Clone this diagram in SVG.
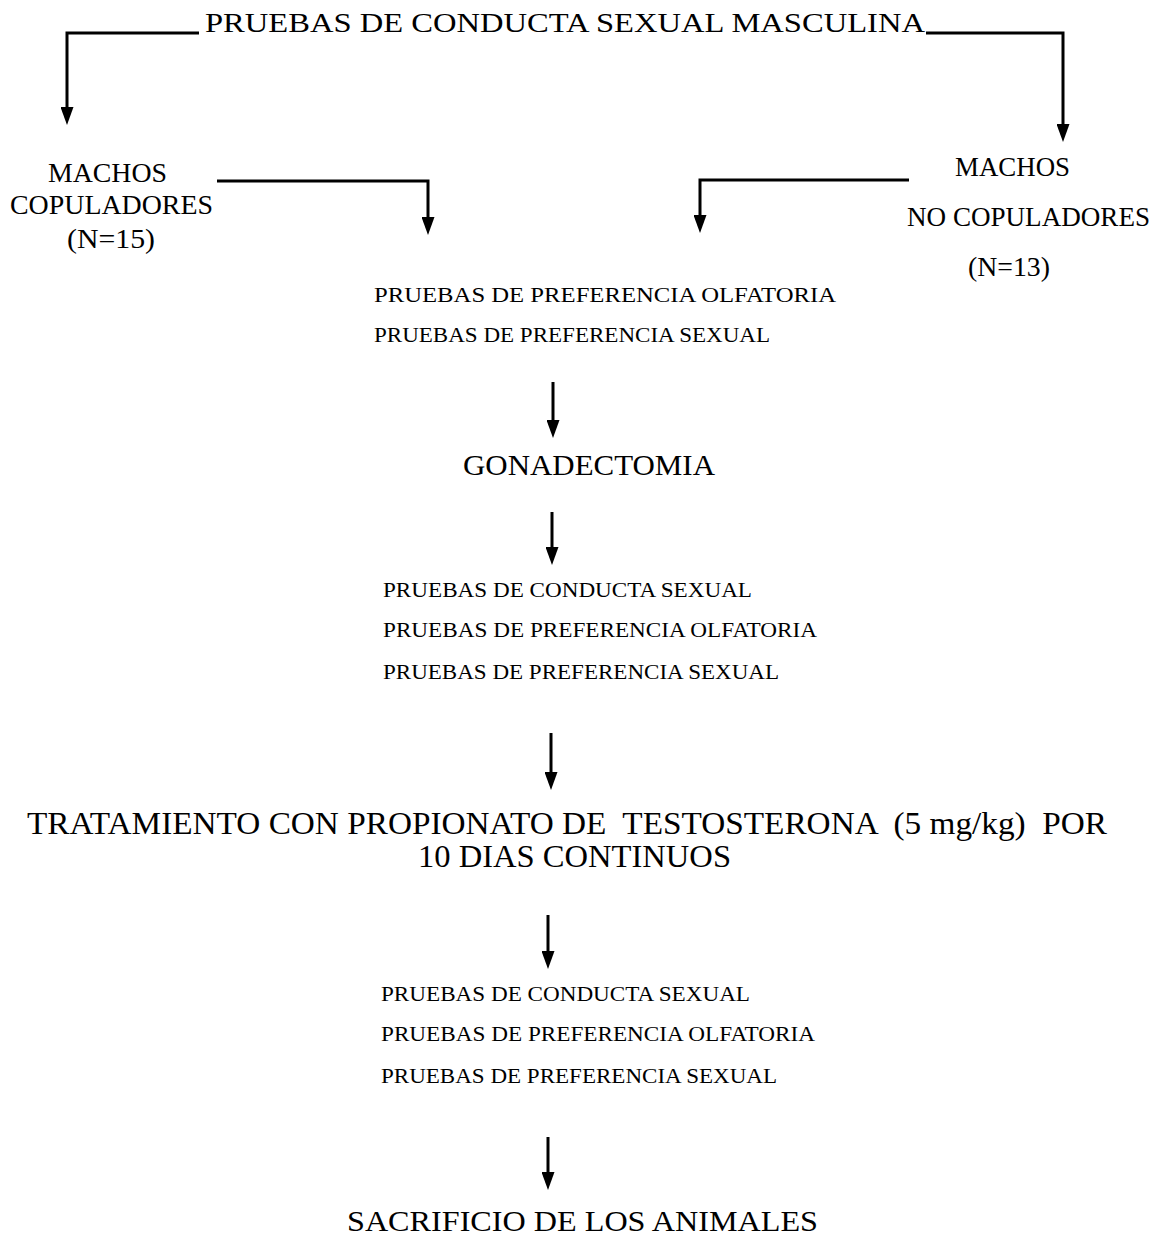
<svg xmlns="http://www.w3.org/2000/svg" width="1167" height="1237" viewBox="0 0 1167 1237">
<style>
text { font-family: "Liberation Serif", "Times New Roman", serif; fill: #000; }
.big { font-size: 27px; }
.mid { font-size: 29px; }
.tall { font-size: 32px; }
.small { font-size: 22px; }
.conn { fill: none; stroke: #000; stroke-width: 3; }
</style>
<defs>
<marker id="ah" viewBox="0 0 18 13" refX="12" refY="6.5" markerWidth="18" markerHeight="13" markerUnits="userSpaceOnUse" orient="auto">
<path d="M0,0 L18,6.5 L0,13 z" fill="#000"/>
</marker>
</defs>
<rect width="1167" height="1237" fill="#fff"/>
<g id="connectors">
<path class="conn" d="M199,33 H67 V119" marker-end="url(#ah)"/>
<path class="conn" d="M926,33 H1063 V136" marker-end="url(#ah)"/>
<path class="conn" d="M217,181 H428 V229" marker-end="url(#ah)"/>
<path class="conn" d="M909,180 H700 V227" marker-end="url(#ah)"/>
<path class="conn" d="M553,382 V432" marker-end="url(#ah)"/>
<path class="conn" d="M552,512 V559" marker-end="url(#ah)"/>
<path class="conn" d="M551,733 V784" marker-end="url(#ah)"/>
<path class="conn" d="M548,915 V963" marker-end="url(#ah)"/>
<path class="conn" d="M548,1137 V1184" marker-end="url(#ah)"/>
</g>
<g id="title">
<text class="big" x="205" y="32" textLength="720" lengthAdjust="spacingAndGlyphs">PRUEBAS DE CONDUCTA SEXUAL MASCULINA</text>
</g>
<g id="copuladores">
<text class="big" x="48" y="182" textLength="119" lengthAdjust="spacingAndGlyphs">MACHOS</text>
<text class="big" x="10" y="214" textLength="203" lengthAdjust="spacingAndGlyphs">COPULADORES</text>
<text class="big" x="67" y="248" textLength="88" lengthAdjust="spacingAndGlyphs">(N=15)</text>
</g>
<g id="no-copuladores">
<text class="big" x="955" y="176" textLength="115" lengthAdjust="spacingAndGlyphs">MACHOS</text>
<text class="big" x="907" y="226" textLength="243" lengthAdjust="spacingAndGlyphs">NO COPULADORES</text>
<text class="big" x="968" y="276" textLength="82" lengthAdjust="spacingAndGlyphs">(N=13)</text>
</g>
<g id="pruebas-1">
<text class="small" x="374" y="302" textLength="462" lengthAdjust="spacingAndGlyphs">PRUEBAS DE PREFERENCIA OLFATORIA</text>
<text class="small" x="374" y="342" textLength="396" lengthAdjust="spacingAndGlyphs">PRUEBAS DE PREFERENCIA SEXUAL</text>
</g>
<g id="gonadectomia">
<text class="mid" x="463" y="475" textLength="252" lengthAdjust="spacingAndGlyphs">GONADECTOMIA</text>
</g>
<g id="pruebas-2">
<text class="small" x="383" y="597" textLength="369" lengthAdjust="spacingAndGlyphs">PRUEBAS DE CONDUCTA SEXUAL</text>
<text class="small" x="383" y="637" textLength="434" lengthAdjust="spacingAndGlyphs">PRUEBAS DE PREFERENCIA OLFATORIA</text>
<text class="small" x="383" y="679" textLength="396" lengthAdjust="spacingAndGlyphs">PRUEBAS DE PREFERENCIA SEXUAL</text>
</g>
<g id="tratamiento">
<text class="tall" x="27" y="834" textLength="1080" lengthAdjust="spacingAndGlyphs" xml:space="preserve">TRATAMIENTO CON PROPIONATO DE  TESTOSTERONA  (5 mg/kg)  POR</text>
<text class="tall" x="418" y="867" textLength="313" lengthAdjust="spacingAndGlyphs">10 DIAS CONTINUOS</text>
</g>
<g id="pruebas-3">
<text class="small" x="381" y="1001" textLength="369" lengthAdjust="spacingAndGlyphs">PRUEBAS DE CONDUCTA SEXUAL</text>
<text class="small" x="381" y="1041" textLength="434" lengthAdjust="spacingAndGlyphs">PRUEBAS DE PREFERENCIA OLFATORIA</text>
<text class="small" x="381" y="1083" textLength="396" lengthAdjust="spacingAndGlyphs">PRUEBAS DE PREFERENCIA SEXUAL</text>
</g>
<g id="sacrificio">
<text class="mid" x="347" y="1231" textLength="471" lengthAdjust="spacingAndGlyphs">SACRIFICIO DE LOS ANIMALES</text>
</g>
</svg>
